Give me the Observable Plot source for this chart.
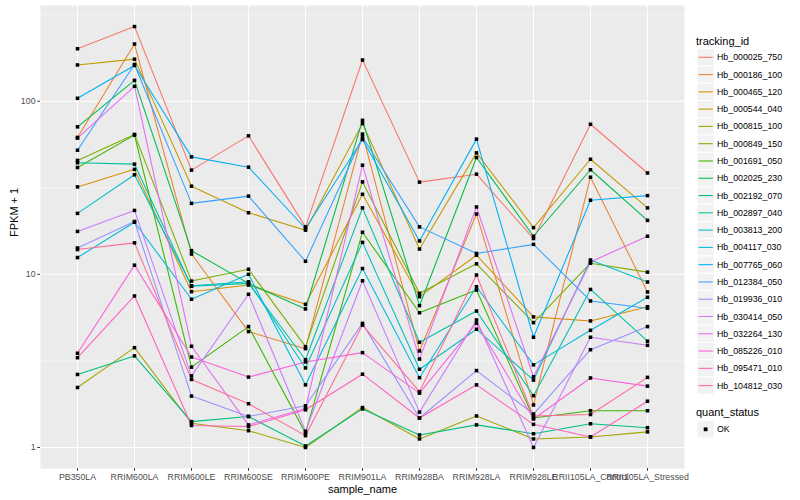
<!DOCTYPE html>
<html><head><meta charset="utf-8">
<script src="https://cdn.jsdelivr.net/npm/d3@7"></script>
<script src="https://cdn.jsdelivr.net/npm/@observablehq/plot@0.6"></script>
<style>
html,body{margin:0;padding:0;background:#fff;}
#wrap{position:relative;width:800px;height:500px;font-family:"Liberation Sans",Arial,Helvetica,sans-serif;}
</style></head><body><div id="wrap"></div>
<script>
const samples = ["PB350LA","RRIM600LA","RRIM600LE","RRIM600SE","RRIM600PE","RRIM901LA","RRIM928BA","RRIM928LA","RRIM928LE","RRII105LA_Control","RRII105LA_Stressed"];
const ids = ["Hb_000025_750","Hb_000186_100","Hb_000465_120","Hb_000544_040","Hb_000815_100","Hb_000849_150","Hb_001691_050","Hb_002025_230","Hb_002192_070","Hb_002897_040","Hb_003813_200","Hb_004117_030","Hb_007765_060","Hb_012384_050","Hb_019936_010","Hb_030414_050","Hb_032264_130","Hb_085226_010","Hb_095471_010","Hb_104812_030"];
const colors = ["#F8766D","#EA8331","#D89000","#C09B00","#A3A500","#7CAE00","#39B600","#00BB4E","#00BF7D","#00C1A3","#00BFC4","#00BAE0","#00B0F6","#35A2FF","#9590FF","#C77CFF","#E76BF3","#FA62DB","#FF62BC","#FF6C91"];

const hb_000025_750 = [201, 270, 40.0, 63.1, 18.8, 173, 34.1, 37.9, 16.1, 73.6, 38.5];
const hb_000186_100 = [61.8, 214, 13.1, 4.67, 3.72, 64.6, 3.61, 22.3, 1.76, 36.4, 7.91];
const hb_000465_120 = [32.0, 40.4, 7.94, 8.67, 6.71, 29.0, 7.43, 12.9, 5.68, 5.38, 6.50];
const hb_000544_040 = [162, 175, 32.3, 22.7, 18.0, 74.3, 14.0, 50.3, 18.6, 46.2, 24.2];
const hb_000815_100 = [2.22, 3.77, 1.38, 1.25, 1.00, 1.70, 1.12, 1.52, 1.12, 1.15, 1.23];
const hb_000849_150 = [45.5, 64.3, 9.14, 10.7, 3.82, 34.2, 7.77, 11.5, 5.26, 11.6, 10.3];
const hb_001691_050 = [41.4, 63.7, 2.91, 4.99, 1.21, 17.5, 6.00, 8.11, 1.48, 1.63, 1.63];
const hb_002025_230 = [71.1, 132, 13.7, 8.87, 6.31, 77.6, 6.59, 47.3, 16.6, 40.2, 20.5];
const hb_002192_070 = [2.64, 3.38, 1.41, 1.51, 1.02, 1.67, 1.18, 1.35, 1.20, 1.37, 1.30];
const hb_002897_040 = [44.1, 43.3, 8.53, 8.87, 3.21, 24.2, 4.05, 6.14, 1.99, 8.18, 4.11];
const hb_003813_200 = [22.5, 37.6, 8.59, 9.06, 2.88, 15.3, 2.83, 4.82, 2.45, 12.1, 9.03];
const hb_004117_030 = [12.5, 20.0, 7.18, 10.0, 2.30, 10.8, 2.53, 8.48, 3.00, 4.75, 7.37];
const hb_007765_060 = [104, 161, 47.7, 41.6, 18.4, 60.1, 15.6, 60.4, 4.33, 26.8, 28.5];
const hb_012384_050 = [52.1, 163, 25.7, 28.3, 11.9, 62.2, 18.8, 13.2, 14.9, 7.02, 6.37];
const hb_019936_010 = [14.2, 20.2, 1.98, 1.51, 1.74, 5.21, 1.48, 2.78, 1.56, 3.67, 4.99];
const hb_030414_050 = [17.7, 23.4, 2.59, 7.67, 1.24, 9.18, 1.60, 5.45, 1.00, 4.33, 3.89];
const hb_032264_130 = [61.2, 122, 3.84, 1.35, 1.68, 42.7, 3.24, 24.5, 2.56, 11.8, 16.6];
const hb_085226_010 = [3.50, 11.3, 3.33, 2.55, 3.12, 3.53, 2.06, 5.21, 1.46, 2.52, 2.26];
const hb_095471_010 = [3.30, 7.50, 1.34, 1.32, 1.65, 2.65, 1.48, 2.30, 1.36, 1.15, 1.85];
const hb_104812_030 = [13.9, 15.2, 2.47, 1.79, 1.17, 5.09, 2.10, 9.91, 1.52, 1.55, 2.54];

const yTicks = [1, 10, 100];
const yMinorTicks = [Math.pow(10, -0.5), Math.pow(10, 0.5), Math.pow(10, 1.5), Math.pow(10, 2.5)];

const series = [hb_000025_750, hb_000186_100, hb_000465_120, hb_000544_040, hb_000815_100, hb_000849_150, hb_001691_050, hb_002025_230, hb_002192_070, hb_002897_040, hb_003813_200, hb_004117_030, hb_007765_060, hb_012384_050, hb_019936_010, hb_030414_050, hb_032264_130, hb_085226_010, hb_095471_010, hb_104812_030];

const rows = ids.flatMap((id, i) => series[i].map((v, j) => ({id, sample: samples[j], value: v, status: "OK"})));
const logs = rows.map(d => Math.log10(d.value));
const [lmin, lmax] = d3.extent(logs);
const pad = (lmax - lmin) * 0.05;
const yDomain = [Math.pow(10, lmin - pad), Math.pow(10, lmax + pad)];
const inDom = v => v >= yDomain[0] && v <= yDomain[1];

const font = "'Liberation Sans', Arial, Helvetica, sans-serif";

const chart = Plot.plot({
  width: 800, height: 500,
  marginLeft: 40, marginRight: 116, marginTop: 5, marginBottom: 32,
  style: {fontFamily: font, background: "transparent", overflow: "visible"},
  x: {type: "point", domain: samples, padding: 0.6},
  y: {type: "log", domain: yDomain},
  color: {domain: ids, range: colors},
  marks: [
    Plot.frame({fill: "#EBEBEB", stroke: "none"}),
    Plot.gridY(yMinorTicks.filter(inDom), {stroke: "#FFFFFF", strokeOpacity: 1, strokeWidth: 0.53}),
    Plot.gridY(yTicks.filter(inDom), {stroke: "#FFFFFF", strokeOpacity: 1, strokeWidth: 1.07}),
    Plot.gridX(samples, {stroke: "#FFFFFF", strokeOpacity: 1, strokeWidth: 1.07}),
    Plot.lineY(rows, {x: "sample", y: "value", z: "id", stroke: "id", strokeWidth: 1.07}),
    Plot.dot(rows, {x: "sample", y: "value", symbol: "square", r: 2.0, fill: "#000000", stroke: "none"}),
    Plot.axisX({tickSize: 2.75, tickPadding: 2.2, fontSize: 8.8, fill: "#4D4D4D", stroke: "#333333", label: null}),
    Plot.axisY({ticks: yTicks, tickFormat: d => String(d), tickSize: 2.75, tickPadding: 2.2, fontSize: 8.8, fill: "#4D4D4D", stroke: "#333333", label: null}),
    Plot.text(["sample_name"], {text: d => d, frameAnchor: "bottom", dy: 21, lineAnchor: "middle", fontSize: 11, fill: "#000000"}),
    Plot.text(["FPKM + 1"], {text: d => d, frameAnchor: "left", dx: -26, rotate: -90, fontSize: 11, fill: "#000000"})
  ]
});
document.getElementById("wrap").appendChild(chart);

// legend
const lg = d3.select("#wrap").append("svg")
  .attr("width", 110).attr("height", 500)
  .style("position", "absolute").style("left", "690px").style("top", "0px")
  .style("font-family", font);
lg.append("text").attr("x", 6).attr("y", 40.7).attr("dominant-baseline", "central")
  .attr("font-size", 11).attr("fill", "#000").text("tracking_id");
const kx = 7, kw = 17.28;
ids.forEach((id, i) => {
  const cy = 57.3 + i * 17.28;
  lg.append("rect").attr("x", kx).attr("y", cy - kw / 2).attr("width", kw).attr("height", kw)
    .attr("fill", "#F2F2F2").attr("stroke", "#FFFFFF").attr("stroke-width", 1);
  lg.append("line").attr("x1", kx + 1.5).attr("x2", kx + kw - 1.5).attr("y1", cy).attr("y2", cy)
    .attr("stroke", colors[i]).attr("stroke-width", 1.07);
  lg.append("text").attr("x", 27).attr("y", cy).attr("dominant-baseline", "central")
    .attr("font-size", 8.8).attr("fill", "#000").text(id);
});
lg.append("text").attr("x", 6).attr("y", 412.3).attr("dominant-baseline", "central")
  .attr("font-size", 11).attr("fill", "#000").text("quant_status");
{
  const cy = 429.3;
  lg.append("rect").attr("x", kx).attr("y", cy - kw / 2).attr("width", kw).attr("height", kw)
    .attr("fill", "#F2F2F2").attr("stroke", "#FFFFFF").attr("stroke-width", 1);
  lg.append("rect").attr("x", kx + kw / 2 - 1.9).attr("y", cy - 1.9).attr("width", 3.8).attr("height", 3.8).attr("fill", "#000");
  lg.append("text").attr("x", 27).attr("y", cy).attr("dominant-baseline", "central")
    .attr("font-size", 8.8).attr("fill", "#000").text("OK");
}
</script></body></html>
